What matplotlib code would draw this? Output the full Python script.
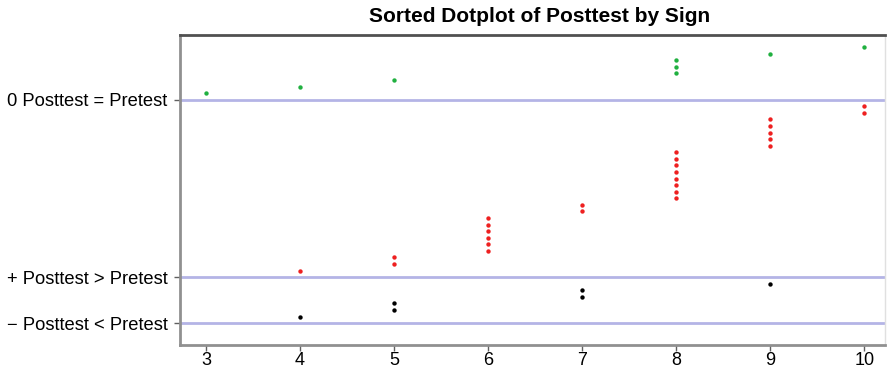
import numpy as np
import matplotlib.pyplot as plt

plt.rcParams['font.family'] = ['Liberation Sans', 'DejaVu Sans']

# posttest values per sign group (sorted within group)
minus_vals = [4, 5, 5, 7, 7, 9]
plus_vals = [4, 5, 5, 6, 6, 6, 6, 6, 6, 7, 7,
             8, 8, 8, 8, 8, 8, 8, 8, 9, 9, 9, 9, 9, 10, 10]
zero_vals = [3, 4, 5, 8, 8, 8, 9, 10]

groups = [minus_vals, plus_vals, zero_vals]
labels = ['\u2212 Posttest < Pretest', '+ Posttest > Pretest', '0 Posttest = Pretest']
colors = ['black', '#ee2020', '#20b040']
xticks = [3, 4, 5, 6, 7, 8, 9, 10]

fig = plt.figure(figsize=(8.89, 3.69), dpi=100)
ax = fig.add_axes([0.2025, 0.065, 0.793, 0.84])

base = 0
bases = []
for vals, col in zip(groups, colors):
    bases.append(base)
    ax.axhline(base, color='#b4b4e6', lw=2, zorder=1)
    y = base + np.arange(1, len(vals) + 1)
    ax.scatter(vals, y, s=10, color=col, zorder=3, linewidths=0)
    base += len(vals) + 1

ax.set_xlim(2.723, 10.22)
ax.set_ylim(-3.33, 43.85)
ax.set_xticks(xticks)
ax.set_yticks(bases)
ax.set_yticklabels(labels)
ax.tick_params(axis='both', length=4, color='#606060', width=1)
ax.tick_params(axis='x', labelsize=13, pad=1)
ax.tick_params(axis='y', labelsize=13.2, pad=5)

ax.spines['left'].set_color('#909090')
ax.spines['left'].set_linewidth(2)
ax.spines['bottom'].set_color('#909090')
ax.spines['bottom'].set_linewidth(2)
ax.spines['top'].set_color('#505050')
ax.spines['top'].set_linewidth(2)
ax.spines['right'].set_color('#e0e0e0')
ax.spines['right'].set_linewidth(1)

fig.suptitle('Sorted Dotplot of Posttest by Sign', x=0.607, y=0.982,
             fontsize=15, fontweight='bold')

fig.savefig('out.png', dpi=100)
